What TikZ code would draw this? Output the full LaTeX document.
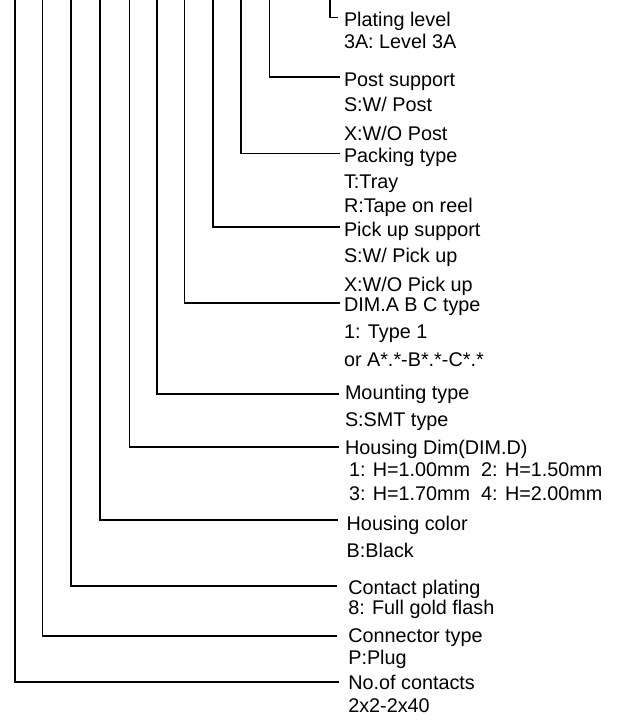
\documentclass[tikz,border=0pt]{standalone}
\usepackage{fontspec}
\setmainfont{Liberation Sans}
\begin{document}
\begin{tikzpicture}[x=1pt,y=-1pt,
  lead/.style={line width=1.6pt, line cap=butt, line join=miter},
  thinlead/.style={line width=1.2pt, line join=miter},
  lbl/.style={anchor=base west, inner sep=0pt, outer sep=0pt, font=\fontsize{19.8}{22}\selectfont}]
\useasboundingbox (0,0) rectangle (619,723);
% label texts
\node[lbl] (h1) at (344,26) {Plating level};
\node[lbl] (h1a) at (344,48.7) {3A: Level 3A};
\node[lbl] (h2) at (344,86) {Post support};
\node[lbl] (h2a) at (344,111.7) {S:W/ Post};
\node[lbl] (h2b) at (344,140) {X:W/O Post};
\node[lbl] (h3) at (344,162) {Packing type};
\node[lbl] (h3a) at (344,188.7) {T:Tray};
\node[lbl] (h3b) at (344,212.7) {R:Tape on reel};
\node[lbl] (h4) at (344,236) {Pick up support};
\node[lbl] (h4a) at (344,262.7) {S:W/ Pick up};
\node[lbl] (h4b) at (344,291) {X:W/O Pick up};
\node[lbl] (h5) at (344,311.7) {DIM.A B C type};
\node[lbl] (h5a) at (344,338.3) {1: Type 1};
\node[lbl] (h5b) at (344,366) {or A*.*-B*.*-C*.*};
\node[lbl] (h6) at (345,399.3) {Mounting type};
\node[lbl] (h6a) at (345,426.7) {S:SMT type};
\node[lbl] (h7) at (345,454) {Housing Dim(DIM.D)};
\node[lbl] (h7a) at (349,476.7) {1: H=1.00mm\ \ 2: H=1.50mm};
\node[lbl] (h7b) at (349,500) {3: H=1.70mm\ \ 4: H=2.00mm};
\node[lbl] (h8) at (346.7,530.7) {Housing color};
\node[lbl] (h8a) at (346.7,557.3) {B:Black};
\node[lbl] (h9) at (348.3,594) {Contact plating};
\node[lbl] (h9a) at (348.3,614.3) {8: Full gold flash};
\node[lbl] (h10) at (348.3,642.7) {Connector type};
\node[lbl] (h10a) at (348.3,664.3) {P:Plug};
\node[lbl] (h11) at (348.3,689.3) {No.of contacts};
\node[lbl] (h11a) at (348.3,712.7) {2x2-2x40};
% leader start and end points
\coordinate (t1) at (330,0);   \coordinate (e1) at (338,17.3);
\coordinate (t2) at (269.3,0); \coordinate (e2) at (340,76.7);
\coordinate (t3) at (241,0);   \coordinate (e3) at (340,153.3);
\coordinate (t4) at (212.7,0); \coordinate (e4) at (340,226.7);
\coordinate (t5) at (184.3,0); \coordinate (e5) at (340,302.7);
\coordinate (t6) at (156.7,0); \coordinate (e6) at (339,394);
\coordinate (t7) at (129.3,0); \coordinate (e7) at (339,446.7);
\coordinate (t8) at (100,0);   \coordinate (e8) at (338,520);
\coordinate (t9) at (71,0);    \coordinate (e9) at (337,586);
\coordinate (t10) at (42.3,0); \coordinate (e10) at (337,636);
\coordinate (t11) at (15,0);   \coordinate (e11) at (339,682);
\draw[thinlead] (t1) |- (e1);
\foreach \i in {2,...,11} {\draw[lead] (t\i) |- (e\i);}
\end{tikzpicture}
\end{document}
